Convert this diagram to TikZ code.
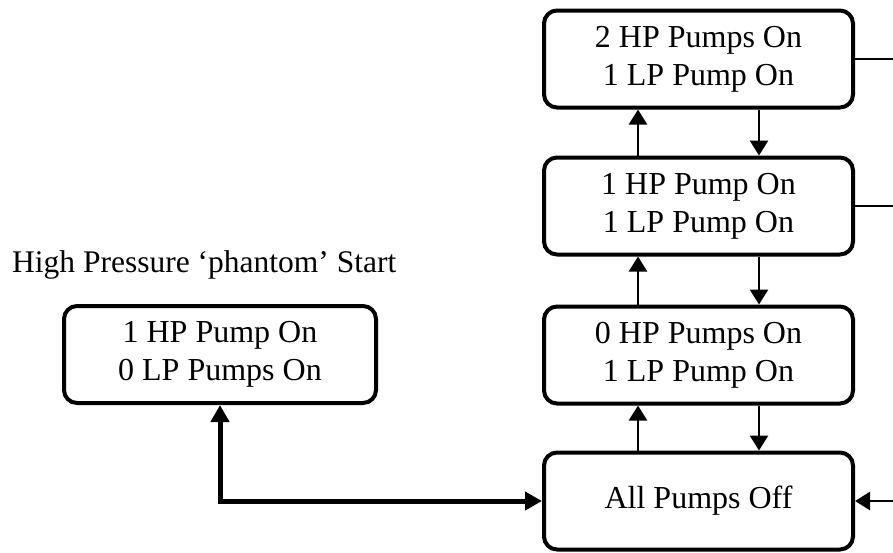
\documentclass[tikz,border=0pt]{standalone}
\usepackage{fontspec}
\setmainfont{Liberation Serif}
\usetikzlibrary{arrows.meta}
\begin{document}
\begin{tikzpicture}[x=1pt,y=-1pt,
  statebox/.style={draw, line width=4pt, rounded corners=13pt, inner sep=0pt,
    minimum width=309pt, minimum height=97pt, align=center,
    font=\fontsize{32}{38}\selectfont},
  link/.style={line width=2.5pt, -{Triangle[length=15pt,width=18pt]}},
  stub/.style={line width=2.5pt},
  startlink/.style={line width=5pt,
    {Triangle[length=17pt,width=18pt]}-{Triangle[length=17pt,width=18pt]}}
]
\useasboundingbox (0,0) rectangle (893,552);

% right-hand column of pump states
\node[statebox] (b1) at (698.5,59)  {2 HP Pumps On\\1 LP Pump On};
\node[statebox] (b2) at (698.5,206) {1 HP Pump On\\1 LP Pump On};
\node[statebox] (b3) at (698.5,355) {0 HP Pumps On\\1 LP Pump On};
\node[statebox] (b4) at (698.5,501) {All Pumps Off};

% phantom start state
\node[anchor=base west, inner sep=0pt, font=\fontsize{31.5}{38}\selectfont]
  (title) at (12,272) {High Pressure ‘phantom’ Start};
\node[statebox, minimum width=312pt] (lb) at (220,354.5) {1 HP Pump On\\0 LP Pumps On};

% columns of the up and down connectors
\coordinate (ux) at (638,0);
\coordinate (dx) at (759,0);

% step up
\draw[link] (b4.north -| ux) -- (b3.south -| ux);
\draw[link] (b3.north -| ux) -- (b2.south -| ux);
\draw[link] (b2.north -| ux) -- (b1.south -| ux);
% step down
\draw[link] (b1.south -| dx) -- (b2.north -| dx);
\draw[link] (b2.south -| dx) -- (b3.north -| dx);
\draw[link] (b3.south -| dx) -- (b4.north -| dx);

% connectors leaving to the right edge
\coordinate (e1) at (893,59);
\coordinate (e2) at (893,206);
\coordinate (e4) at (893,501);
\draw[stub] (b1.east) -- (e1);
\draw[stub] (b2.east) -- (e2);
\draw[link] (e4) -- (b4.east);

% phantom start link
\draw[startlink] (lb.south) |- (b4.west);
\end{tikzpicture}
\end{document}
